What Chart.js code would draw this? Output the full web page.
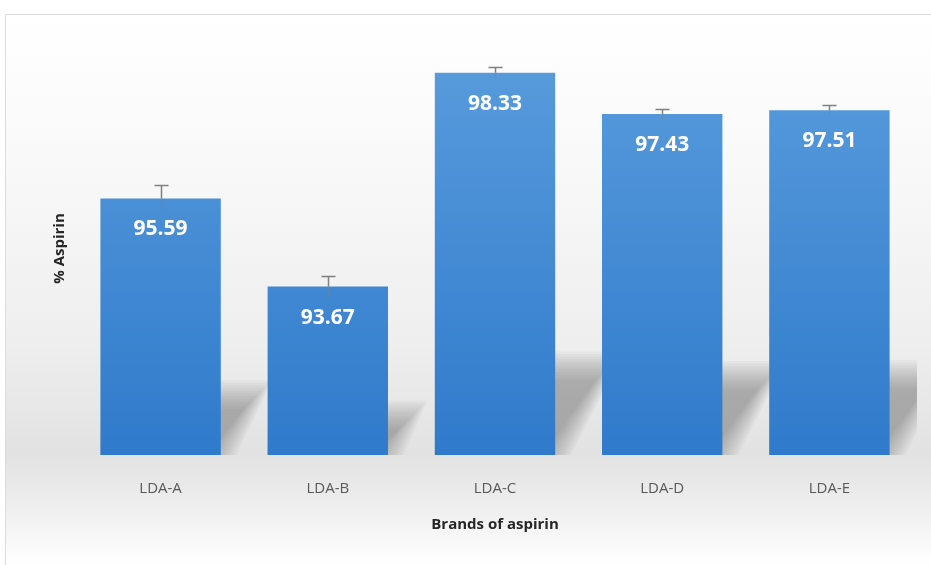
<!DOCTYPE html>
<html><head><meta charset="utf-8">
<script src="https://cdn.jsdelivr.net/npm/chart.js@4"></script>
<style>html,body{margin:0;padding:0;background:#fff}#wrap{width:931px;height:565px;position:relative}</style>
</head><body><div id="wrap"><canvas id="c"></canvas></div>
<script>
const categories = ['LDA-A','LDA-B','LDA-C','LDA-D','LDA-E'];
const aspirinPercent = [95.59, 93.67, 98.33, 97.43, 97.51];
const errorValues = [0.30, 0.24, 0.13, 0.12, 0.12];
const yTitle = '% Aspirin';
const xTitle = 'Brands of aspirin';

function drawShadows(chart){
  const ctx = chart.ctx, meta = chart.getDatasetMeta(0), ca = chart.chartArea;
  const base = ca.bottom;
  meta.data.forEach(b=>{
    const p = b.getProps(['x','y','width'], true);
    const h = base - p.y;
    const sh = h*0.23, off = h*0.14;
    const l = p.x - p.width/2, r = p.x + p.width/2;
    ctx.save();
    ctx.beginPath(); ctx.rect(l, ca.top, Math.min(ca.right + 4, r + off + 20) - l, base - ca.top); ctx.clip();
    const layers = 12;
    for(let k=0;k<layers;k++){
      const t = (k - layers/2)*2.6;
      ctx.fillStyle = 'rgba(120,120,120,0.06)';
      ctx.beginPath();
      ctx.moveTo(l + t, base);
      ctx.lineTo(l + off + t, base - sh + t);
      ctx.lineTo(r + off - t, base - sh + t);
      ctx.lineTo(r - t, base);
      ctx.closePath(); ctx.fill();
    }
    ctx.restore();
  });
}

const bgPlugin = {
  id:'bg',
  beforeDraw(chart){
    const ctx = chart.ctx, W = chart.width, H = chart.height;
    ctx.save();
    ctx.fillStyle = '#ffffff'; ctx.fillRect(0,0,W,H);
    const g = ctx.createLinearGradient(0,14,0,H);
    g.addColorStop(0,'#ffffff');
    g.addColorStop(0.3,'#f8f8f8');
    g.addColorStop(0.6,'#eeeeee');
    g.addColorStop(0.8,'#e2e2e2');
    g.addColorStop(0.9,'#efefef');
    g.addColorStop(1,'#ffffff');
    ctx.fillStyle = g; ctx.fillRect(5,14,W-5,H-14);
    ctx.strokeStyle = '#dcdcdc'; ctx.lineWidth = 1;
    ctx.beginPath(); ctx.moveTo(5.5,H); ctx.lineTo(5.5,14.5); ctx.lineTo(W,14.5); ctx.stroke();
    ctx.restore();
    if (chart.chartArea) drawShadows(chart);
  },
  afterDatasetsDraw(chart){
    const ctx = chart.ctx, meta = chart.getDatasetMeta(0), ys = chart.scales.y;
    ctx.save();
    meta.data.forEach((b,i)=>{
      const v = aspirinPercent[i], e = errorValues[i];
      const yt = Math.round(ys.getPixelForValue(v+e))+0.5;
      const yb = ys.getPixelForValue(v-e);
      const yTop = ys.getPixelForValue(v);
      const x = Math.round(b.x)+0.5;
      ctx.strokeStyle = 'rgba(130,130,140,0.35)'; ctx.lineWidth = 1.5;
      ctx.beginPath(); ctx.moveTo(x,yTop); ctx.lineTo(x,yb); ctx.stroke();
      ctx.strokeStyle = '#7f7f7f'; ctx.lineWidth = 1.5;
      ctx.beginPath(); ctx.moveTo(x,yt); ctx.lineTo(x,yTop); ctx.moveTo(x-7,yt); ctx.lineTo(x+7,yt); ctx.stroke();
      ctx.fillStyle = '#ffffff';
      ctx.font = 'bold 21px "Open Sans", sans-serif';
      ctx.textAlign = 'center'; ctx.textBaseline = 'middle';
      ctx.fillText(v.toFixed(2), b.x, yTop + 31);
    });
    ctx.restore();
  }
};

new Chart(document.getElementById('c'), {
  type:'bar',
  data:{labels:categories, datasets:[{
    data:aspirinPercent,
    backgroundColor(ctx){
      const ca = ctx.chart.chartArea; if(!ca) return '#4a8fd6';
      const g = ctx.chart.ctx.createLinearGradient(0,ca.top,0,ca.bottom);
      g.addColorStop(0,'#5a9ddd'); g.addColorStop(1,'#2f7acb');
      return g;
    },
    borderWidth:0, barPercentage:0.72, categoryPercentage:1
  }]},
  plugins:[bgPlugin],
  options:{
    responsive:true, maintainAspectRatio:false, animation:false,
    layout:{padding:{left:47,right:18,top:42,bottom:27}},
    plugins:{legend:{display:false}, tooltip:{enabled:false}},
    scales:{
      y:{min:90,max:99, grid:{display:false}, border:{display:false}, ticks:{display:false},
        title:{display:true,text:yTitle,color:'#262626',font:{family:'"Open Sans", sans-serif',size:15,weight:'bold'},padding:{top:4,bottom:0}}},
      x:{grid:{display:false}, border:{display:false},
        ticks:{color:'#595959',padding:17,font:{family:'"Open Sans", sans-serif',size:15}},
        title:{display:true,text:xTitle,color:'#262626',font:{family:'"Open Sans", sans-serif',size:15,weight:'bold'},padding:{top:1,bottom:4}}}
    }
  }
});
</script></body></html>
